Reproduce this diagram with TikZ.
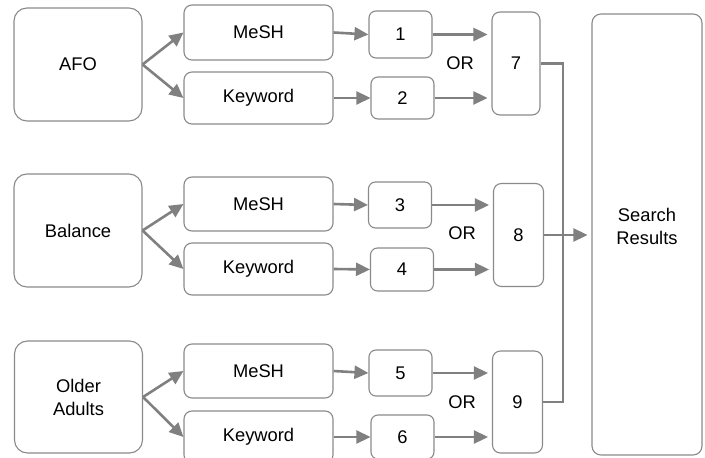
\documentclass[tikz,border=0pt]{standalone}
\usepackage{fontspec}
\setmainfont{Liberation Sans}
\usetikzlibrary{arrows.meta}
\definecolor{linegray}{RGB}{128,128,128}
\definecolor{edgegray}{RGB}{138,138,138}
\begin{document}
\begin{tikzpicture}[x=1bp,y=-1bp,
  every node/.style={font=\fontsize{18.4}{23}\selectfont},
  topic/.style={draw=edgegray,line width=1.1bp,rounded corners=13bp,minimum width=128bp,minimum height=113bp,inner sep=0pt,align=center},
  term/.style={draw=edgegray,line width=1.1bp,rounded corners=8bp,minimum width=149bp,minimum height=53bp,inner sep=0pt},
  setbox/.style={draw=edgegray,line width=1.1bp,rounded corners=7bp,minimum width=63bp,inner sep=0pt},
  orbox/.style={draw=edgegray,line width=1.1bp,rounded corners=8bp,minimum width=50bp,minimum height=103bp,inner sep=0pt},
  link/.style={draw=linegray,line width=2.6bp},
  flow/.style={link,-{Triangle[length=14bp,width=13bp]}}
]
\useasboundingbox (0,0) rectangle (705,458);

% Concepts
\node[topic] (afo) at (78,64.5) {AFO};
\node[topic] (bal) at (78,230.5) {Balance};
\node[topic,minimum height=112bp] (old) at (78.5,397) {Older\\Adults};

% Search terms
\node[term,minimum height=55bp] (mesha) at (258.5,32.5) {MeSH};
\node[term,minimum height=52bp] (keya) at (258.5,98) {Keyword};
\node[term,minimum height=54bp] (meshb) at (258.5,204) {MeSH};
\node[term,minimum height=52bp] (keyb) at (258.5,269) {Keyword};
\node[term,minimum height=54bp] (meshc) at (258.5,371) {MeSH};
\node[term,minimum height=52bp] (keyc) at (258.5,437) {Keyword};

% Numbered searches
\node[setbox,minimum height=47bp] (n1) at (400.5,34.5) {1};
\node[setbox,minimum height=42bp] (n2) at (402.5,98) {2};
\node[setbox,minimum height=46bp] (n3) at (400,205) {3};
\node[setbox,minimum height=43bp] (n4) at (402,269.5) {4};
\node[setbox,minimum height=46bp] (n5) at (400.5,373) {5};
\node[setbox,minimum height=44bp] (n6) at (402.5,437) {6};

% Combined searches
\node[orbox,minimum width=48bp] (n7) at (516,63.5) {7};
\node[orbox] (n8) at (518.5,235) {8};
\node[orbox,minimum height=102bp] (n9) at (517.5,402) {9};
\node (or1) at (460,63) {OR};
\node (or2) at (462,233) {OR};
\node (or3) at (462,402) {OR};

% Results
\node[draw=edgegray,line width=1.1bp,rounded corners=9bp,minimum width=110bp,minimum height=441bp,inner sep=0pt] (res) at (647,234.5) {};
\node[align=center] (restext) at (647,226) {Search\\Results};

% Concept to terms
\draw[flow] (afo.east) -- (mesha.west);
\draw[flow] (afo.east) -- (keya.west);
\draw[flow] (bal.east) -- (meshb.west);
\draw[flow] (bal.east) -- (keyb.west);
\draw[flow] (old.east) -- (meshc.west);
\draw[flow] (old.east) -- (keyc.west);

% Terms to searches
\draw[flow] (mesha.east) -- (n1.west);
\draw[flow] (keya.east) -- (n2.west);
\draw[flow] (meshb.east) -- (n3.west);
\draw[flow] (keyb.east) -- (n4.west);
\draw[flow] (meshc.east) -- (n5.west);
\draw[flow] (keyc.east) -- (n6.west);

% OR into combined searches
\draw[flow,shorten >=4bp] (n1.east) -- (n1.east -| n7.west);
\draw[flow,shorten >=4bp] (n2.east) -- (n2.east -| n7.west);
\draw[flow,shorten >=4bp] (n3.east) -- (n3.east -| n8.west);
\draw[flow,shorten >=4bp] (n4.east) -- (n4.east -| n8.west);
\draw[flow,shorten >=4bp] (n5.east) -- (n5.east -| n9.west);
\draw[flow,shorten >=4bp] (n6.east) -- (n6.east -| n9.west);

% Combined to results
\coordinate (join) at (563,235);
\draw[link] (n7.east) -| (join);
\draw[link] (n9.east) -| (join);
\draw[flow,shorten >=4bp] (n8.east) -- (n8.east -| res.west);
\end{tikzpicture}
\end{document}
